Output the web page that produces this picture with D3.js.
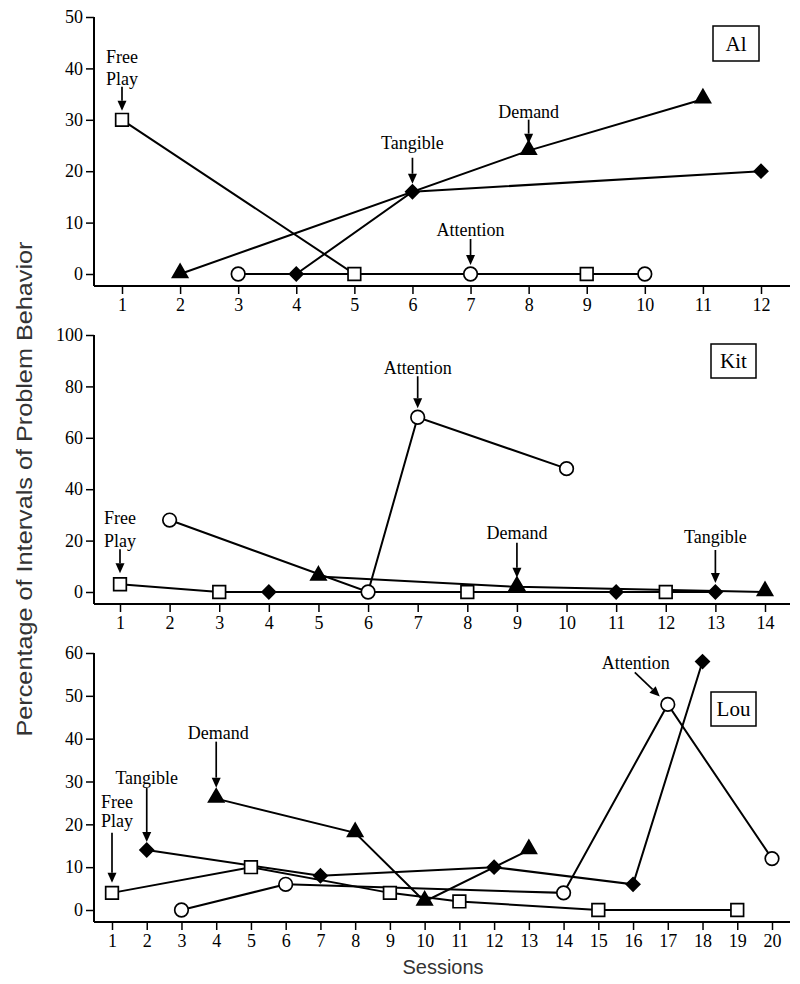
<!DOCTYPE html>
<html>
<head>
<meta charset="utf-8">
<script src="https://cdn.jsdelivr.net/npm/d3@7"></script>
<style>
  html, body { margin: 0; padding: 0; background: #fff; }
  svg { display: block; }
</style>
</head>
<body>
<svg id="chart" width="800" height="984"></svg>
<script>
// ---------------- DATA ----------------
// Panel "Al"
const alSessionsMax = 12;
const alYTicks = [0, 10, 20, 30, 40, 50];
const alFreePlay  = { s: [1, 5, 9],        v: [30, 0, 0] };
const alAttention = { s: [3, 7, 10],       v: [0, 0, 0] };
const alTangible  = { s: [4, 6, 12],       v: [0, 16, 20] };
const alDemand    = { s: [2, 8, 11],       v: [0, 24, 34] };

// Panel "Kit"
const kitSessionsMax = 14;
const kitYTicks = [0, 20, 40, 60, 80, 100];
const kitFreePlay  = { s: [1, 3, 8, 12],   v: [3, 0, 0, 0] };
const kitAttention = { s: [2, 6, 7, 10],   v: [28, 0, 68, 48] };
const kitTangible  = { s: [4, 11, 13],     v: [0, 0, 0] };
const kitDemand    = { s: [5, 9, 14],      v: [6, 2, 0] };

// Panel "Lou"
const louSessionsMax = 20;
const louYTicks = [0, 10, 20, 30, 40, 50, 60];
const louFreePlay  = { s: [1, 5, 9, 11, 15, 19], v: [4, 10, 4, 2, 0, 0] };
const louAttention = { s: [3, 6, 14, 17, 20],    v: [0, 6, 4, 48, 12] };
const louTangible  = { s: [2, 7, 12, 16, 18],    v: [14, 8, 10, 6, 58] };
const louDemand    = { s: [4, 8, 10, 13],        v: [26, 18, 2, 14] };

// Condition labels (text + which session/value they point to)
const alLabels  = [
  { lines: ["Free", "Play"], s: 1, v: 30 },
  { lines: ["Tangible"], s: 6, v: 16 },
  { lines: ["Demand"], s: 8, v: 24 },
  { lines: ["Attention"], s: 7, v: 0 }
];
const kitLabels = [
  { lines: ["Free", "Play"], s: 1, v: 3 },
  { lines: ["Attention"], s: 7, v: 68 },
  { lines: ["Demand"], s: 9, v: 2 },
  { lines: ["Tangible"], s: 13, v: 0 }
];
const louLabels = [
  { lines: ["Free", "Play"], s: 1, v: 4 },
  { lines: ["Tangible"], s: 2, v: 14 },
  { lines: ["Demand"], s: 4, v: 26 },
  { lines: ["Attention"], s: 17, v: 48 }
];

const yAxisTitle = "Percentage of Intervals of Problem Behavior";
const xAxisTitle = "Sessions";

// ---------------- LAYOUT (positions / styles) ----------------
const SERIF = "'Liberation Serif','Times New Roman',serif";
const SANS = "'Liberation Sans',Arial,Helvetica,sans-serif";

const panels = [
  { name: "Al", nMax: alSessionsMax, yTicks: alYTicks,
    series: { free: alFreePlay, att: alAttention, tan: alTangible, dem: alDemand },
    labels: alLabels,
    x0: 122, x1: 761, yTop: 17, yZero: 274, axisY: 286, box: [713, 26, 46, 35],
    lay: [
      { ty: [-63, -41], a: [-33, -9] },
      { ty: [-49], a: [-34, -8] },
      { ty: [-39], a: [-31, -7] },
      { ty: [-44], a: [-35, -9] }
    ] },
  { name: "Kit", nMax: kitSessionsMax, yTicks: kitYTicks,
    series: { free: kitFreePlay, att: kitAttention, tan: kitTangible, dem: kitDemand },
    labels: kitLabels,
    x0: 120, x1: 765, yTop: 335, yZero: 592, axisY: 604, box: [711, 344, 45, 34],
    lay: [
      { ty: [-66, -43], a: [-35, -11] },
      { ty: [-49], a: [-41, -9] },
      { ty: [-54], a: [-44, -9] },
      { ty: [-55], a: [-42, -9] }
    ] },
  { name: "Lou", nMax: louSessionsMax, yTicks: louYTicks,
    series: { free: louFreePlay, att: louAttention, tan: louTangible, dem: louDemand },
    labels: louLabels,
    x0: 112, x1: 772, yTop: 653, yZero: 910, axisY: 922, box: [711, 692, 45, 34],
    lay: [
      { ty: [-91, -72], a: [-60, -10], tdx: 5 },
      { ty: [-72], a: [-62, -8] },
      { ty: [-66], a: [-57, -11], tdx: 2 },
      { diag: true, tx: -32, ty: [-41], from: [-33, -32], to: [-8, -8] }
    ] }
];

const AXIS_X = 94;
const AXIS_END = 790;

const svg = d3.select("#chart");

const markerStyle = {
  free: { type: d3.symbolSquare, size: 160, fill: "#fff", rotate: 0 },
  att:  { type: d3.symbolCircle, size: 145, fill: "#fff", rotate: 0 },
  tan:  { type: d3.symbolSquare, size: 90,  fill: "#000", rotate: 45 },
  dem:  { type: d3.symbolTriangle, size: 100, fill: "#000", rotate: 0 }
};

function arrow(g, x1, y1, x2, y2) {
  const dx = x2 - x1, dy = y2 - y1;
  const len = Math.sqrt(dx * dx + dy * dy);
  const ux = dx / len, uy = dy / len;
  const headL = 10, headW = 4.5;
  const bx = x2 - ux * headL, by = y2 - uy * headL;
  g.append("line")
    .attr("x1", x1).attr("y1", y1).attr("x2", bx).attr("y2", by)
    .attr("stroke", "#000").attr("stroke-width", 1.7);
  g.append("path")
    .attr("d", `M${x2},${y2}L${bx - uy * headW},${by + ux * headW}L${bx + uy * headW},${by - ux * headW}Z`)
    .attr("fill", "#000");
}

panels.forEach(p => {
  const g = svg.append("g");
  const x = d3.scaleLinear().domain([1, p.nMax]).range([p.x0, p.x1]);
  const yMax = d3.max(p.yTicks);
  const y = d3.scaleLinear().domain([0, yMax]).range([p.yZero, p.yTop]);

  // x axis
  const xa = g.append("g").attr("transform", `translate(0,${p.axisY})`)
    .call(d3.axisBottom(x).tickValues(d3.range(1, p.nMax + 1)).tickSize(8).tickSizeOuter(0).tickPadding(4).tickFormat(d3.format("d")));
  xa.select(".domain").remove();
  xa.append("line").attr("x1", AXIS_X).attr("x2", AXIS_END).attr("y1", 0).attr("y2", 0)
    .attr("stroke", "#000").attr("stroke-width", 2);
  xa.selectAll(".tick line").attr("stroke", "#000").attr("stroke-width", 1.5);
  xa.selectAll(".tick text").attr("font-family", SERIF).attr("font-size", 18).attr("fill", "#000");

  // y axis
  const ya = g.append("g").attr("transform", `translate(${AXIS_X},0)`)
    .call(d3.axisLeft(y).tickValues(p.yTicks).tickSize(8).tickSizeOuter(0).tickPadding(3));
  ya.select(".domain").remove();
  ya.append("line").attr("x1", 0).attr("x2", 0).attr("y1", y(yMax)).attr("y2", p.axisY)
    .attr("stroke", "#000").attr("stroke-width", 2);
  ya.selectAll(".tick line").attr("stroke", "#000").attr("stroke-width", 1.5);
  ya.selectAll(".tick text").attr("font-family", SERIF).attr("font-size", 18).attr("fill", "#000");

  // lines
  const line = d3.line().x(d => x(d[0])).y(d => y(d[1]));
  const keys = ["free", "att", "tan", "dem"];
  keys.forEach(k => {
    const sr = p.series[k];
    const pts = sr.s.map((s, i) => [s, sr.v[i]]);
    g.append("path").datum(pts).attr("d", line)
      .attr("fill", "none").attr("stroke", "#000").attr("stroke-width", 2);
  });
  // markers
  keys.forEach(k => {
    const sr = p.series[k];
    const pts = sr.s.map((s, i) => [s, sr.v[i]]);
    const ms = markerStyle[k];
    g.selectAll(null).data(pts).join("path")
      .attr("d", d3.symbol().type(ms.type).size(ms.size))
      .attr("transform", d => `translate(${x(d[0])},${y(d[1]) + (k === "dem" ? -1 : 0)}) rotate(${ms.rotate})`)
      .attr("fill", ms.fill).attr("stroke", "#000").attr("stroke-width", 1.7);
  });

  // condition labels with arrows
  p.labels.forEach((lb, i) => {
    const L = p.lay[i];
    const px = x(lb.s), py = y(lb.v);
    const tdx = L.tdx || L.tx || 0;
    lb.lines.forEach((t, j) => {
      g.append("text").attr("x", px + tdx).attr("y", py + L.ty[j] + 6)
        .attr("text-anchor", "middle").attr("font-family", SERIF).attr("font-size", 18)
        .attr("fill", "#000").text(t);
    });
    if (L.diag) {
      arrow(g, px + L.from[0], py + L.from[1], px + L.to[0], py + L.to[1]);
    } else {
      arrow(g, px, py + L.a[0], px, py + L.a[1]);
    }
  });

  // participant box
  const [bx, by, bw, bh] = p.box;
  g.append("rect").attr("x", bx).attr("y", by).attr("width", bw).attr("height", bh)
    .attr("fill", "#fff").attr("stroke", "#000").attr("stroke-width", 1.5);
  g.append("text").attr("x", bx + bw / 2).attr("y", by + bh / 2 + 7)
    .attr("text-anchor", "middle").attr("font-family", SERIF).attr("font-size", 21)
    .attr("fill", "#000").text(p.name);
});

// axis titles
svg.append("text")
  .attr("transform", "translate(32,489) rotate(-90)")
  .attr("text-anchor", "middle").attr("font-family", SANS).attr("font-size", 22)
  .attr("fill", "#333").attr("textLength", 495).attr("lengthAdjust", "spacingAndGlyphs")
  .text(yAxisTitle);

svg.append("text")
  .attr("x", 443).attr("y", 974)
  .attr("text-anchor", "middle").attr("font-family", SANS).attr("font-size", 20)
  .attr("fill", "#333").text(xAxisTitle);
</script>
</body>
</html>
